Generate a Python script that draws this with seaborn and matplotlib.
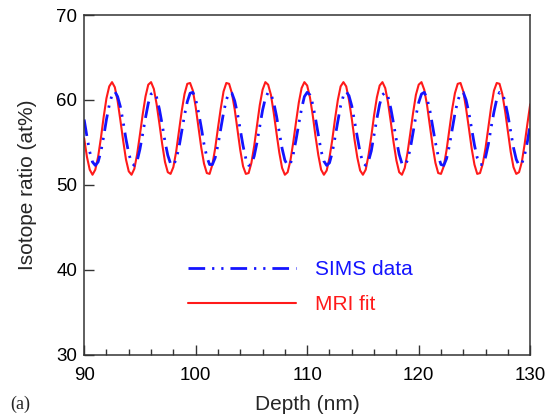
import numpy as np
import pandas as pd
import matplotlib
matplotlib.use("Agg")
import matplotlib.pyplot as plt
import seaborn as sns

# depth grid (nm), 0.25 nm sampling
depth = np.arange(90, 130.001, 0.25)

# SIMS data (at%)
sims = [57.7, 55.7, 53.9, 52.7, 52.3, 52.7, 53.9, 55.7, 57.7, 59.4,
        60.6, 61.0, 60.4, 59.2, 57.4, 55.4, 53.7, 52.6, 52.3, 52.8,
        54.2, 56.0, 57.9, 59.6, 60.7, 60.9, 60.3, 58.9, 57.1, 55.1,
        53.5, 52.5, 52.3, 53.0, 54.4, 56.3, 58.2, 59.8, 60.8, 60.9,
        60.1, 58.6, 56.8, 54.8, 53.3, 52.4, 52.4, 53.2, 54.7, 56.6,
        58.5, 60.0, 60.9, 60.8, 59.9, 58.4, 56.5, 54.6, 53.1, 52.3,
        52.4, 53.4, 55.0, 56.9, 58.8, 60.2, 60.9, 60.7, 59.7, 58.1,
        56.2, 54.3, 52.9, 52.3, 52.5, 53.6, 55.3, 57.2, 59.0, 60.4,
        60.9, 60.6, 59.5, 57.8, 55.9, 54.0, 52.8, 52.3, 52.6, 53.8,
        55.6, 57.5, 59.3, 60.5, 61.0, 60.5, 59.3, 57.5, 55.6, 53.8,
        52.6, 52.3, 52.8, 54.0, 55.9, 57.8, 59.5, 60.6, 60.9, 60.4,
        59.0, 57.2, 55.3, 53.6, 52.5, 52.3, 52.9, 54.3, 56.2, 58.1,
        59.7, 60.7, 60.9, 60.2, 58.8, 56.9, 55.0, 53.4, 52.4, 52.3,
        53.1, 54.6, 56.5, 58.4, 59.9, 60.8, 60.9, 60.0, 58.5, 56.6,
        54.7, 53.2, 52.4, 52.4, 53.3, 54.8, 56.8, 58.6, 60.1, 60.9,
        60.8, 59.8, 58.2, 56.3, 54.4, 53.0, 52.3, 52.5, 53.5, 55.1,
        57.1]

# MRI fit (at%)
mri = [55.5, 53.3, 51.8, 51.2, 51.8, 53.3, 55.5, 58.0, 60.2, 61.6,
       62.1, 61.5, 59.9, 57.6, 55.2, 53.0, 51.6, 51.2, 51.9, 53.6,
       55.9, 58.3, 60.4, 61.8, 62.1, 61.3, 59.5, 57.2, 54.8, 52.7,
       51.5, 51.3, 52.1, 53.9, 56.3, 58.7, 60.7, 61.9, 62.0, 61.1,
       59.2, 56.8, 54.4, 52.5, 51.4, 51.3, 52.4, 54.3, 56.7, 59.0,
       61.0, 62.0, 61.9, 60.8, 58.9, 56.5, 54.1, 52.2, 51.3, 51.4,
       52.6, 54.6, 57.0, 59.4, 61.2, 62.1, 61.8, 60.6, 58.5, 56.1,
       53.8, 52.0, 51.2, 51.5, 52.9, 55.0, 57.4, 59.7, 61.4, 62.1,
       61.7, 60.3, 58.2, 55.7, 53.5, 51.8, 51.2, 51.7, 53.2, 55.3,
       57.8, 60.0, 61.6, 62.1, 61.6, 60.0, 57.8, 55.3, 53.2, 51.7,
       51.2, 51.8, 53.5, 55.7, 58.2, 60.3, 61.7, 62.1, 61.4, 59.7,
       57.4, 55.0, 52.9, 51.5, 51.2, 52.0, 53.8, 56.1, 58.5, 60.6,
       61.8, 62.1, 61.2, 59.4, 57.0, 54.6, 52.6, 51.4, 51.3, 52.2,
       54.1, 56.5, 58.9, 60.8, 61.9, 62.0, 61.0, 59.0, 56.7, 54.3,
       52.4, 51.3, 51.4, 52.5, 54.4, 56.8, 59.2, 61.1, 62.0, 61.9,
       60.7, 58.7, 56.3, 53.9, 52.1, 51.3, 51.5, 52.7, 54.8, 57.2,
       59.5]

df = pd.DataFrame({"Depth": depth, "SIMS": sims, "MRI": mri})

sns.set_style("ticks")
plt.rcParams['font.family'] = ['Liberation Sans', 'DejaVu Sans']

fig = plt.figure(figsize=(5.5, 4.17), dpi=100)
ax = fig.add_axes([0.153, 0.149, 0.811, 0.815])

red = "#ff1a1a"
blue = "#1414ff"

sns.lineplot(data=df, x="Depth", y="MRI", ax=ax, color=red, lw=1.5,
             estimator=None, label="MRI fit")
sns.lineplot(data=df, x="Depth", y="SIMS", ax=ax, color=blue, lw=2.0,
             estimator=None, label="SIMS data",
             dashes=False, linestyle=(0, (6, 2.5, 0.8, 2.5, 0.8, 2.5)))

ax.set_xlim(90, 130)
ax.set_ylim(30, 70)
ax.set_xticks([90, 100, 110, 120, 130])
ax.set_xticks(np.arange(92, 130, 2), minor=True)
ax.set_yticks([30, 40, 50, 60, 70])
ax.tick_params(axis="both", which="major", direction="in", length=7,
               width=1, labelsize=13.5, colors="#333333", labelcolor="black")
ax.tick_params(axis="x", which="minor", direction="in", length=4, width=1,
               colors="#333333")
ax.tick_params(axis="x", which="major", pad=9)
ax.tick_params(axis="y", which="major", pad=5)
for s in ax.spines.values():
    s.set_visible(True)
    s.set_color("#333333")
    s.set_linewidth(1.1)

ax.set_xlabel("Depth (nm)", fontsize=15, labelpad=8)
ax.set_ylabel("Isotope ratio (at%)", fontsize=15, labelpad=14)

handles, labels = ax.get_legend_handles_labels()
leg = ax.legend(handles[::-1], labels[::-1], loc="lower left",
                bbox_to_anchor=(0.19, 0.065), frameon=False, fontsize=15,
                handlelength=5.2, handletextpad=0.9, labelspacing=0.75,
                labelcolor="linecolor")

fig.text(0.018, 0.02, "(a)", fontsize=13, family="Liberation Serif")

plt.savefig("out.png", dpi=100)
